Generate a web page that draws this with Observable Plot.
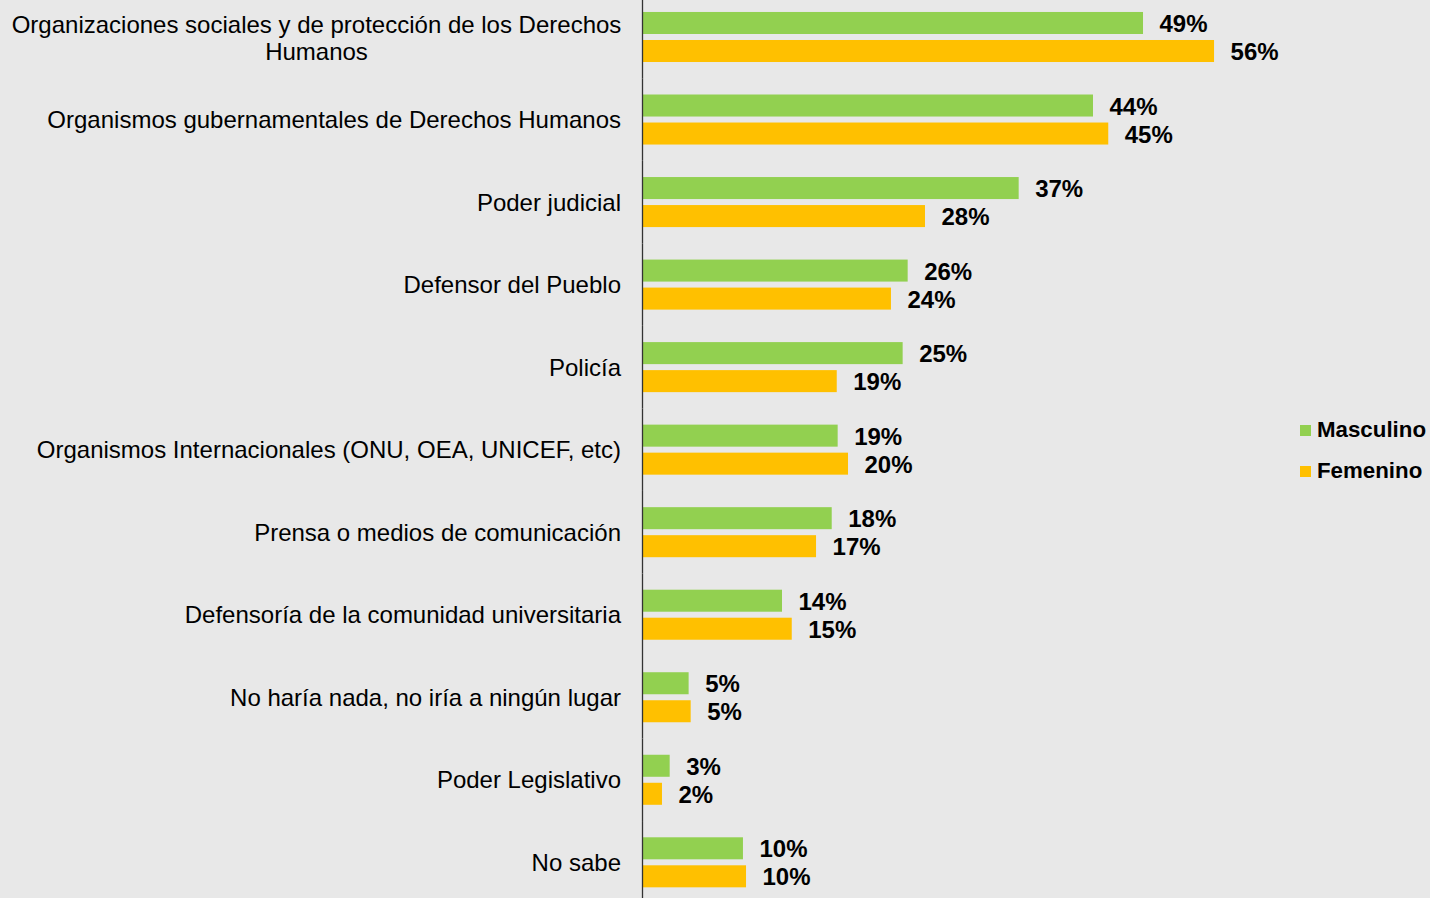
<!DOCTYPE html>
<html>
<head>
<meta charset="utf-8">
<script src="https://cdn.jsdelivr.net/npm/d3@7"></script>
<script src="https://cdn.jsdelivr.net/npm/@observablehq/plot@0.6"></script>
<style>
  html, body { margin: 0; padding: 0; background: #e8e8e8; }
  #wrap { position: relative; width: 1430px; height: 898px; background: #e8e8e8; overflow: hidden; }
  #legend { position: absolute; left: 1300px; top: 417px; font-family: "Liberation Sans", Arial, sans-serif; font-weight: bold; font-size: 22.3px; color: #000; }
  #legend .item { display: flex; align-items: center; height: 26px; margin-bottom: 15px; }
  #legend .sw { width: 11px; height: 11px; margin-right: 6px; }
</style>
</head>
<body>
<div id="wrap">
  <div id="chart"></div>
  <div id="legend"></div>
</div>
<script>
const categories = [
  "Organizaciones sociales y de protección de los Derechos Humanos",
  "Organismos gubernamentales de Derechos Humanos",
  "Poder judicial",
  "Defensor del Pueblo",
  "Policía",
  "Organismos Internacionales (ONU, OEA, UNICEF, etc)",
  "Prensa o medios de comunicación",
  "Defensoría de la comunidad universitaria",
  "No haría nada, no iría a ningún lugar",
  "Poder Legislativo",
  "No sabe"
];
const series = ["Masculino", "Femenino"];
const masculino = [48.83, 43.95, 36.70, 25.87, 25.38, 19.04, 18.46, 13.61, 4.5, 2.65, 9.80];
const femenino  = [55.76, 45.44, 27.56, 24.24, 18.95, 20.05, 16.93, 14.56, 4.70, 1.90, 10.10];
const colors = ["#92d050", "#ffc000"];

const data = [];
categories.forEach((c, i) => {
  data.push({category: c, series: series[0], value: masculino[i]});
  data.push({category: c, series: series[1], value: femenino[i]});
});

const font = '"Liberation Sans", Arial, sans-serif';
const firstLabel = "Organizaciones sociales y de protección de los Derechos\nHumanos";

const chart = Plot.plot({
  width: 1430,
  height: 898,
  marginLeft: 642.5,
  marginRight: 70,
  marginTop: 0,
  marginBottom: 0,
  style: {background: "#e8e8e8", fontFamily: font, color: "#000"},
  x: {domain: [0, 70], axis: null},
  fy: {domain: categories, padding: 0, axis: null, round: false, range: [-4.27, 903.57]},
  y: {domain: series, paddingInner: 0.214, paddingOuter: 0.58, axis: null, round: false},
  color: {domain: series, range: colors},
  marks: [
    Plot.barX(data, {x: "value", y: "series", fy: "category", fill: "series"}),
    Plot.text(data, {
      x: "value", y: "series", fy: "category",
      text: d => Math.round(d.value) + "%",
      textAnchor: "start", dx: 16, dy: 1, fontWeight: "bold", fontSize: 24, fill: "#000"
    }),
    Plot.text(categories.slice(1), {
      fy: d => d, text: d => d, frameAnchor: "left",
      textAnchor: "end", dx: -22, dy: 0.5, fontSize: 24, fill: "#000"
    }),
    Plot.text([categories[0]], {
      fy: d => d, text: () => firstLabel, frameAnchor: "left",
      textAnchor: "middle", dx: -326.5, fontSize: 24, lineHeight: 1.12, fill: "#000"
    }),
    Plot.ruleX([0], {stroke: "#333", strokeWidth: 1.3, dx: -0.5})
  ]
});
document.getElementById("chart").appendChild(chart);

const legend = document.getElementById("legend");
series.forEach((s, i) => {
  const item = document.createElement("div");
  item.className = "item";
  const sw = document.createElement("span");
  sw.className = "sw";
  sw.style.background = colors[i];
  const t = document.createElement("span");
  t.textContent = s;
  item.appendChild(sw);
  item.appendChild(t);
  legend.appendChild(item);
});
</script>
</body>
</html>
